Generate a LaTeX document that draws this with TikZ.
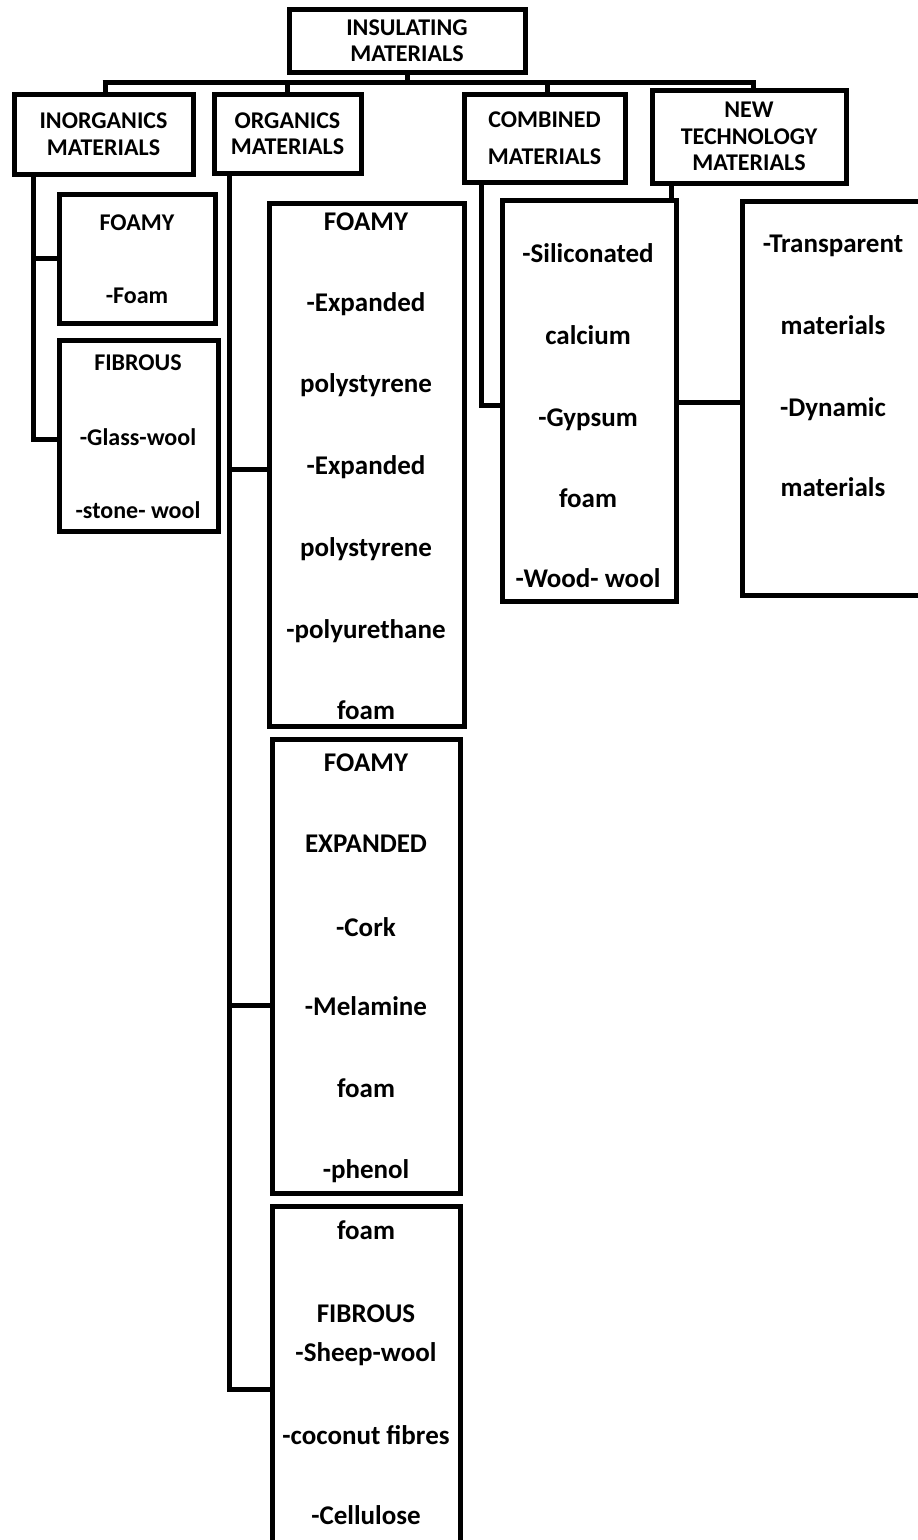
\documentclass[tikz,border=0pt]{standalone}
\usepackage{fontspec}
\setmainfont{Carlito}
\begin{document}
\begin{tikzpicture}[x=1pt,y=-1pt,
  box/.style={draw, line width=5pt, inner sep=0pt, outer sep=0pt,
    font=\bfseries\fontsize{24}{26.5}\selectfont, align=center},
  txt/.style={font=\bfseries\fontsize{27}{30}\selectfont, anchor=base, inner sep=0pt},
  txts/.style={font=\bfseries\fontsize{24}{27}\selectfont, anchor=base, inner sep=0pt},
  conn/.style={line width=5pt}]
\useasboundingbox (0,0) rectangle (918,1540);
\clip (0,0) rectangle (918,1540);
% header boxes
\node[box, minimum width=236pt, minimum height=63pt] (top) at (407,40.5) {INSULATING\\MATERIALS};
\node[box, minimum width=179pt, minimum height=80pt] (inorg) at (103.5,134) {INORGANICS\\MATERIALS};
\node[box, minimum width=147pt, minimum height=79pt] (org) at (287.5,133.5) {ORGANICS\\MATERIALS};
\node[box, minimum width=161pt, minimum height=88pt] (comb) at (544.5,138) {COMBINED\\[10pt]MATERIALS};
\node[box, minimum width=194pt, minimum height=93pt] (newt) at (749,136.5) {NEW\\TECHNOLOGY\\MATERIALS};
% child boxes
\node[box, minimum width=156pt, minimum height=129pt] (f1) at (137,258.5) {};
\node[box, minimum width=159pt, minimum height=191pt] (fb1) at (138.5,435.5) {};
\node[box, minimum width=195pt, minimum height=523pt] (o1) at (366.5,464.5) {};
\node[box, minimum width=188pt, minimum height=454pt] (o2) at (366,966) {};
\node[box, minimum width=188pt, minimum height=354pt] (o3) at (366,1383) {};
\node[box, minimum width=174pt, minimum height=401pt] (c1) at (589,400.5) {};
\node[box, minimum width=188pt, minimum height=394pt] (n1) at (836,398) {};
% bus
\coordinate (busL) at (105,82);
\coordinate (busR) at (753,82);
\draw[conn] (top.south) -- (top.south |- busL);
\draw[conn] ([xshift=-2.5pt]busL) -- ([xshift=2.5pt]busR);
\draw[conn] (busL) -- (busL |- inorg.north);
\draw[conn] (org.north) -- (org.north |- busL);
\draw[conn] ([xshift=2.5pt]comb.north) -- ([xshift=2.5pt]comb.north |- busL);
\draw[conn] (busR) -- (busR |- newt.north);
% inorganics
\draw[conn] ([xshift=-70.5pt]inorg.south) |- ([yshift=-3.5pt]fb1.west);
\draw[conn] ([xshift=-70.5pt]inorg.south |- f1.west) -- (f1.west);
% organics
\draw[conn] ([xshift=-58.5pt]org.south) |- ([yshift=-6pt]o3.west);
\draw[conn] ([xshift=-58.5pt,yshift=-4.5pt]org.south |- o1.west) -- ([yshift=-4.5pt]o1.west);
\draw[conn] ([xshift=-58.5pt,yshift=-39pt]org.south |- o2.west) -- ([yshift=-39pt]o2.west);
% combined
\draw[conn] ([xshift=-63.5pt]comb.south) |- ([yshift=-4.5pt]c1.west);
% new technology
\draw[conn] ([xshift=-78pt]newt.south) -- ([xshift=-78pt]newt.south |- c1.north);
\draw[conn] ([yshift=-1.5pt]c1.east) -- ([yshift=-1.5pt]c1.east -| n1.west);
% texts inorganics
\node[txts] (f1a) at (137,230) {FOAMY};
\node[txts] (f1b) at (137,303) {-Foam};
\node[txts] (fb1a) at (138,370) {FIBROUS};
\node[txts] (fb1b) at (138,445) {-Glass-wool};
\node[txts] (fb1c) at (138,518) {-stone- wool};
% organics 1
\node[txt] (o1a) at (366,230) {FOAMY};
\node[txt] (o1b) at (366,311) {-Expanded};
\node[txt] (o1c) at (366,392) {polystyrene};
\node[txt] (o1d) at (366,474) {-Expanded};
\node[txt] (o1e) at (366,556) {polystyrene};
\node[txt] (o1f) at (366,638) {-polyurethane};
\node[txt] (o1g) at (366,719) {foam};
% organics 2
\node[txt] (o2a) at (366,771) {FOAMY};
\node[txt] (o2b) at (366,852) {EXPANDED};
\node[txt] (o2c) at (366,936) {-Cork};
\node[txt] (o2d) at (366,1015) {-Melamine};
\node[txt] (o2e) at (366,1097) {foam};
\node[txt] (o2f) at (366,1178) {-phenol};
% organics 3
\node[txt] (o3a) at (366,1239) {foam};
\node[txt] (o3b) at (366,1322) {FIBROUS};
\node[txt] (o3c) at (366,1361) {-Sheep-wool};
\node[txt] (o3d) at (366,1444) {-coconut fibres};
\node[txt] (o3e) at (366,1524) {-Cellulose};
% combined
\node[txt] (c1a) at (588,262) {-Siliconated};
\node[txt] (c1b) at (588,344) {calcium};
\node[txt] (c1c) at (588,426) {-Gypsum};
\node[txt] (c1d) at (588,507) {foam};
\node[txt] (c1e) at (588,587) {-Wood- wool};
% new technology
\node[txt] (n1a) at (833,252) {-Transparent};
\node[txt] (n1b) at (833,334) {materials};
\node[txt] (n1c) at (833,416) {-Dynamic};
\node[txt] (n1d) at (833,496) {materials};
\end{tikzpicture}
\end{document}
